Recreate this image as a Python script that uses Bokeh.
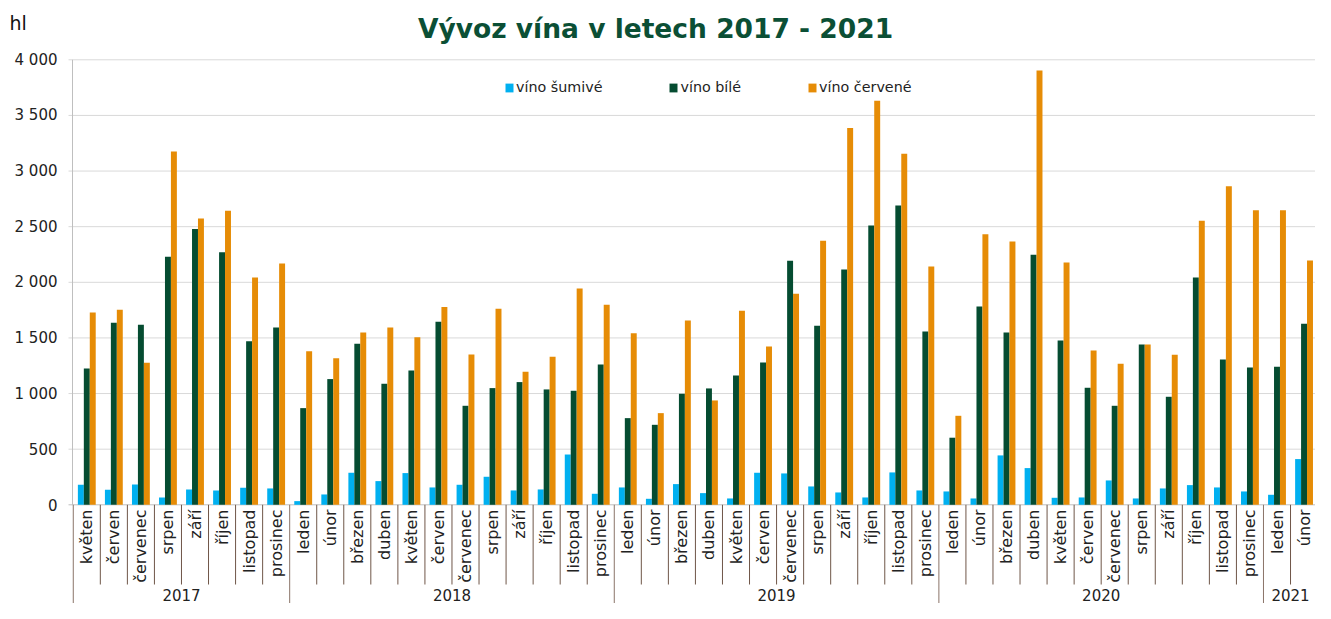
import numpy as np
from bokeh.plotting import figure
from bokeh.models import ColumnDataSource, Range1d, Legend, LegendItem
from bokeh.transform import dodge
from bokeh.core.properties import value
from bokeh.embed import file_html
from bokeh.resources import INLINE

# ---------------- data ----------------
months = ["květen", "červen", "červenec", "srpen", "září", "říjen", "listopad", "prosinec",
          "leden", "únor", "březen", "duben", "květen", "červen", "červenec", "srpen", "září", "říjen", "listopad", "prosinec",
          "leden", "únor", "březen", "duben", "květen", "červen", "červenec", "srpen", "září", "říjen", "listopad", "prosinec",
          "leden", "únor", "březen", "duben", "květen", "červen", "červenec", "srpen", "září", "říjen", "listopad", "prosinec",
          "leden", "únor"]
years = ["2017"] * 8 + ["2018"] * 12 + ["2019"] * 12 + ["2020"] * 12 + ["2021"] * 2

sumive = [180, 135, 183, 66, 138, 129, 153, 147,
          33, 93, 288, 213, 285, 156, 180, 252, 129, 138, 452, 99,
          156, 54, 186, 105, 57, 288, 282, 165, 111, 66, 291, 129,
          120, 57, 444, 330, 63, 66, 219, 57, 147, 177, 156, 120,
          90, 411]
bile = [1225, 1636, 1618, 2229, 2478, 2271, 1471, 1594,
        869, 1130, 1447, 1088, 1207, 1645, 890, 1049, 1103, 1037, 1025, 1261,
        779, 719, 998, 1046, 1162, 1279, 2193, 1609, 2115, 2511, 2690, 1558,
        603, 1783, 1548, 2247, 1477, 1052, 890, 1441, 971, 2044, 1306, 1234,
        1240, 1627]
cervene = [1729, 1753, 1276, 3176, 2574, 2643, 2043, 2169,
           1381, 1318, 1549, 1594, 1507, 1777, 1351, 1762, 1195, 1330, 1944, 1798,
           1543, 824, 1657, 938, 1744, 1423, 1896, 2373, 3388, 3631, 3155, 2142,
           800, 2433, 2367, 3903, 2178, 1387, 1267, 1441, 1348, 2553, 2863, 2647,
           2647, 2197]
series_names = ["víno šumivé", "víno bílé", "víno červené"]
series_colors = ["#00B0F0", "#054C31", "#E68C06"]
y_ticks = [0, 500, 1000, 1500, 2000, 2500, 3000, 3500, 4000]
y_tick_labels = ["0", "500", "1 000", "1 500", "2 000", "2 500", "3 000", "3 500", "4 000"]
title_text = "Vývoz vína v letech 2017 - 2021"
unit_text = "hl"

# ---------------- geometry (screen px -> data) ----------------
W, H = 1315, 603
CAT_PX = 27.05          # px per month category
C0_PX = 86.3            # px of the first category centre
PX_PER_VAL = 445.0 / 4000.0
ZERO_PY = 504.3         # px of value 0


def X(px):
    return (px - C0_PX) / CAT_PX


def Y(py):
    return (ZERO_PY - py) / PX_PER_VAL


FONT = value("DejaVu Sans")
TXT = "#222222"

n = len(months)
xs = list(range(n))
src = ColumnDataSource(dict(x=xs, m=months, s=sumive, b=bile, c=cervene))

p = figure(width=W, height=H, x_range=Range1d(X(0), X(W)), y_range=Range1d(Y(H), Y(0)),
           output_backend="svg", toolbar_location=None, x_axis_location=None, y_axis_location=None,
           min_border_left=0, min_border_right=0, min_border_top=0, min_border_bottom=0,
           outline_line_color=None, background_fill_color="white", border_fill_color="white")
p.grid.visible = False

# value axis: grid lines, ticks, axis line, labels
grid_y = [t for t in y_ticks if t != 0]
p.segment(x0=[X(68)] * len(grid_y), y0=grid_y, x1=[X(W)] * len(grid_y), y1=grid_y,
          line_color="#d9d9d9", line_width=1)
p.segment(x0=[X(68)], y0=[0], x1=[X(W)], y1=[0], line_color="#bfbfbf", line_width=1)
p.segment(x0=[X(72)], y0=[0], x1=[X(72)], y1=[max(y_ticks)], line_color="#bfbfbf", line_width=1)
p.text(x=[X(57)] * len(y_ticks), y=y_ticks, text=y_tick_labels, text_align="right",
       text_baseline="middle", text_font=FONT, text_font_size="15px", text_color=TXT)

# bars
offs = [-0.22, 0.0, 0.22]
fields = ["s", "b", "c"]
renderers = []
for f, o, col in zip(fields, offs, series_colors):
    r = p.vbar(x=dodge("x", o, range=p.x_range), top=f, bottom=0, width=0.22, source=src,
               fill_color=col, line_color=None)
    renderers.append(r)

# category separators
bounds_x = [i - 0.5 for i in range(n)]
year_start = [i for i in range(n) if i == 0 or years[i] != years[i - 1]]
month_sep = [b for i, b in enumerate(bounds_x) if i not in year_start]
year_sep = [bounds_x[i] for i in year_start]
p.segment(x0=month_sep, y0=[0] * len(month_sep), x1=month_sep, y1=[Y(584)] * len(month_sep),
          line_color="#6f5648", line_width=1)
p.segment(x0=year_sep, y0=[0] * len(year_sep), x1=year_sep, y1=[Y(H)] * len(year_sep),
          line_color="#8a7468", line_width=1)

# month labels
p.text(x="x", y=Y(509), text="m", source=src, angle=np.pi / 2, text_align="right",
       text_baseline="middle", text_font=FONT, text_font_size="16px", text_color=TXT)

# year labels
uy = []
for y in years:
    if y not in uy:
        uy.append(y)
ycent = [float(np.mean([i for i in range(n) if years[i] == y])) for y in uy]
p.text(x=ycent, y=[Y(594)] * len(uy), text=uy, text_align="center", text_baseline="middle",
       text_font=FONT, text_font_size="15px", text_color=TXT)

# title and unit
p.text(x=[X(655)], y=[Y(28)], text=[title_text], text_align="center", text_baseline="alphabetic",
       text_font=FONT, text_font_style="bold", text_font_size="26.5px", text_color="#0B4F35")
p.text(x=[X(9)], y=[Y(22)], text=[unit_text], text_align="left", text_baseline="alphabetic",
       text_font=FONT, text_font_size="19px", text_color="#111111")

# legend
legend = Legend(items=[LegendItem(label=nm, renderers=[r]) for nm, r in zip(series_names, renderers)],
                orientation="horizontal", location=(504, 508), glyph_width=10, glyph_height=11,
                label_standoff=2, spacing=66, padding=0, margin=0, border_line_color=None,
                background_fill_alpha=0, label_text_font="DejaVu Sans", label_text_font_size="14.3px",
                label_text_color=TXT, label_height=11)
p.add_layout(legend, "center")

open("out.html", "w").write(file_html(p, INLINE))
